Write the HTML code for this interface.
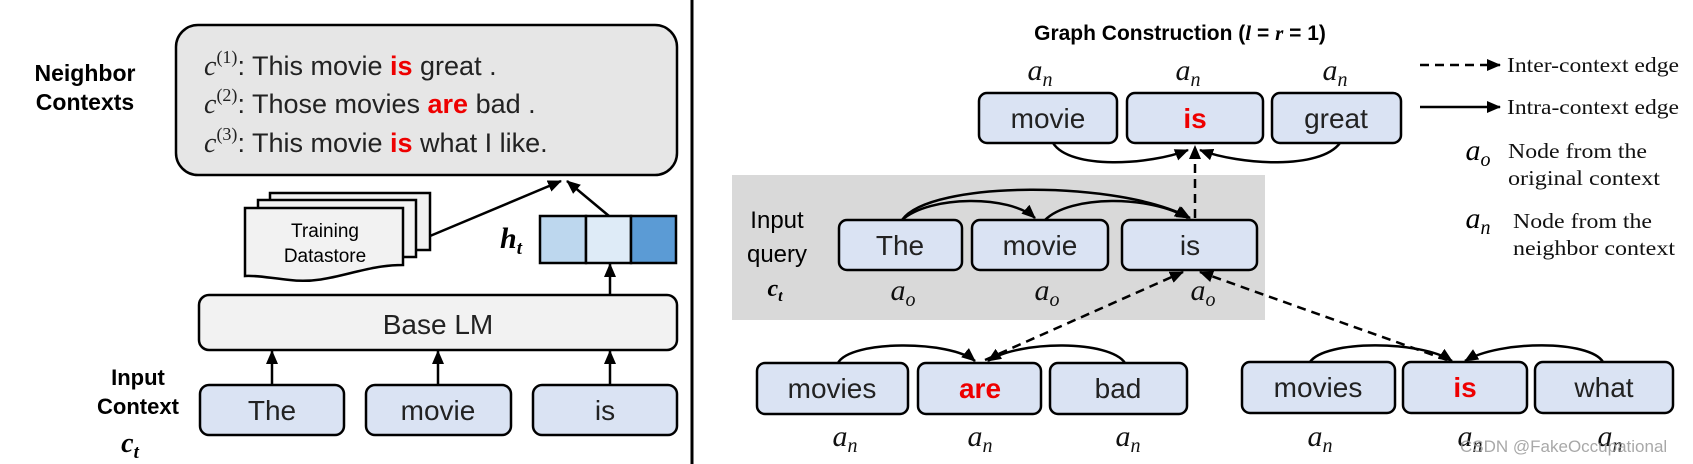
<!DOCTYPE html>
<html><head><meta charset="utf-8"><style>
html,body{margin:0;padding:0;background:#fff;}
svg{display:block;}
.s{font-family:"Liberation Sans",sans-serif;}
.sr{font-family:"Liberation Serif",serif;}
</style></head><body>
<svg width="1693" height="464" viewBox="0 0 1693 464" xmlns="http://www.w3.org/2000/svg">
<defs>
<marker id="ah" viewBox="0 0 14 12" refX="13" refY="6" markerWidth="14" markerHeight="12" orient="auto" markerUnits="userSpaceOnUse">
<path d="M0,0 L14,6 L0,12 z" fill="#000"/>
</marker>
</defs>
<line x1="692" y1="0" x2="692" y2="464" stroke="#000" stroke-width="3"/>

<!-- LEFT PANEL -->
<text x="85" y="81" text-anchor="middle" class="s" font-weight="bold" font-size="23">Neighbor</text>
<text x="85" y="110" text-anchor="middle" class="s" font-weight="bold" font-size="23">Contexts</text>
<rect x="176" y="25" width="501" height="150" rx="22" fill="#e6e6e6" stroke="#000" stroke-width="2.5"/>
<g class="s" font-size="27" fill="#222">
<text x="204" y="75"><tspan class="sr" font-style="italic" font-size="28">c</tspan><tspan class="sr" font-size="18" dy="-12">(1)</tspan><tspan dy="12">:  This movie </tspan><tspan fill="#e00" font-weight="bold">is</tspan> great .</text>
<text x="204" y="113"><tspan class="sr" font-style="italic" font-size="28">c</tspan><tspan class="sr" font-size="18" dy="-12">(2)</tspan><tspan dy="12">: Those movies </tspan><tspan fill="#e00" font-weight="bold">are</tspan> bad .</text>
<text x="204" y="152"><tspan class="sr" font-style="italic" font-size="28">c</tspan><tspan class="sr" font-size="18" dy="-12">(3)</tspan><tspan dy="12">: This movie </tspan><tspan fill="#e00" font-weight="bold">is</tspan> what I like.</text>
</g>
<rect x="270" y="193" width="160" height="57" fill="#f2f2f2" stroke="#000" stroke-width="2.5"/>
<rect x="258" y="200" width="158" height="57" fill="#f2f2f2" stroke="#000" stroke-width="2.5"/>
<path d="M245,208 L403,208 L403,265 C360,265 330,285 290,280 C270,278 255,275 245,276 Z" fill="#f2f2f2" stroke="#000" stroke-width="2.5"/>
<text x="325" y="237" text-anchor="middle" class="s" font-size="19">Training</text>
<text x="325" y="262" text-anchor="middle" class="s" font-size="19">Datastore</text>
<text x="500" y="248" class="sr" font-weight="bold" font-style="italic" font-size="30">h<tspan font-size="19" dy="6">t</tspan></text>
<rect x="540" y="216" width="46" height="47" fill="#bdd7ee" stroke="#000" stroke-width="2.5"/>
<rect x="586" y="216" width="45" height="47" fill="#deebf7" stroke="#000" stroke-width="2.5"/>
<rect x="631" y="216" width="45" height="47" fill="#5b9bd5" stroke="#000" stroke-width="2.5"/>
<line x1="430" y1="236" x2="561" y2="181" stroke="#000" stroke-width="2.5" marker-end="url(#ah)"/>
<line x1="609" y1="216" x2="567" y2="181" stroke="#000" stroke-width="2.5" marker-end="url(#ah)"/>
<rect x="199" y="295" width="478" height="55" rx="10" fill="#f2f2f2" stroke="#000" stroke-width="2.5"/>
<text x="438" y="334" text-anchor="middle" class="s" font-size="28" fill="#222">Base LM</text>
<line x1="610" y1="295" x2="610" y2="264" stroke="#000" stroke-width="2.5" marker-end="url(#ah)"/>
<g stroke="#000" stroke-width="2.5" fill="#dae3f3">
<rect x="200" y="385" width="144" height="50" rx="9"/>
<rect x="366" y="385" width="145" height="50" rx="9"/>
<rect x="533" y="385" width="144" height="50" rx="9"/>
</g>
<g class="s" font-size="28" text-anchor="middle" fill="#222">
<text x="272" y="420">The</text><text x="438" y="420">movie</text><text x="605" y="420">is</text>
</g>
<g stroke="#000" stroke-width="2.5">
<line x1="272" y1="385" x2="272" y2="351" marker-end="url(#ah)"/>
<line x1="438" y1="385" x2="438" y2="351" marker-end="url(#ah)"/>
<line x1="610" y1="385" x2="610" y2="351" marker-end="url(#ah)"/>
</g>
<text x="138" y="385" text-anchor="middle" class="s" font-weight="bold" font-size="22">Input</text>
<text x="138" y="414" text-anchor="middle" class="s" font-weight="bold" font-size="22">Context</text>
<text x="130" y="452" text-anchor="middle" class="sr" font-weight="bold" font-style="italic" font-size="28">c<tspan font-size="19" dy="6">t</tspan></text>

<!-- RIGHT PANEL -->
<text x="1180" y="40" text-anchor="middle" class="s" font-weight="bold" font-size="21">Graph Construction (<tspan class="sr" font-style="italic">l</tspan> = <tspan class="sr" font-style="italic">r</tspan> = 1)</text>
<rect x="732" y="175" width="533" height="145" fill="#d9d9d9"/>
<g fill="none" stroke="#000" stroke-width="2.5">
<path d="M1053,143 C1070,170 1150,165 1188,150" marker-end="url(#ah)"/>
<path d="M1340,143 C1320,170 1240,165 1200,150" marker-end="url(#ah)"/>
<path d="M902,220 C930,180 1120,180 1190,218" marker-end="url(#ah)"/>
<path d="M902,220 C930,195 1010,195 1035,218" marker-end="url(#ah)"/>
<path d="M1045,220 C1070,195 1150,195 1188,218" marker-end="url(#ah)"/>
<path d="M838,363 C850,340 950,340 975,361" marker-end="url(#ah)"/>
<path d="M1125,363 C1110,340 1020,340 988,361" marker-end="url(#ah)"/>
<path d="M1310,362 C1325,340 1420,340 1452,361" marker-end="url(#ah)"/>
<path d="M1603,362 C1590,340 1500,340 1465,361" marker-end="url(#ah)"/>
</g>
<g fill="none" stroke="#000" stroke-width="2.5" stroke-dasharray="9,6">
<line x1="1195" y1="218" x2="1195" y2="146" marker-end="url(#ah)"/>
<line x1="985" y1="360" x2="1183" y2="272" marker-end="url(#ah)"/>
<line x1="1447" y1="360" x2="1200" y2="272" marker-end="url(#ah)"/>
</g>
<g stroke="#000" stroke-width="2.5" fill="#dae3f3">
<rect x="979" y="93" width="138" height="50" rx="8"/>
<rect x="1127" y="93" width="136" height="50" rx="8"/>
<rect x="1272" y="93" width="129" height="50" rx="8"/>
<rect x="839" y="220" width="123" height="50" rx="8"/>
<rect x="972" y="220" width="136" height="50" rx="8"/>
<rect x="1122" y="220" width="135" height="50" rx="8"/>
<rect x="757" y="363" width="151" height="51" rx="8"/>
<rect x="918" y="363" width="123" height="51" rx="8"/>
<rect x="1050" y="363" width="137" height="51" rx="8"/>
<rect x="1242" y="362" width="153" height="51" rx="8"/>
<rect x="1403" y="362" width="124" height="51" rx="8"/>
<rect x="1535" y="362" width="138" height="51" rx="8"/>
</g>
<g class="s" font-size="28" text-anchor="middle" fill="#222">
<text x="1048" y="128">movie</text>
<text x="1195" y="128" fill="#e00" font-weight="bold">is</text>
<text x="1336" y="128">great</text>
<text x="900" y="255">The</text>
<text x="1040" y="255">movie</text>
<text x="1190" y="255">is</text>
<text x="832" y="398">movies</text>
<text x="980" y="398" fill="#e00" font-weight="bold">are</text>
<text x="1118" y="398">bad</text>
<text x="1318" y="397">movies</text>
<text x="1465" y="397" fill="#e00" font-weight="bold">is</text>
<text x="1604" y="397">what</text>
</g>
<g class="sr" font-style="italic" font-size="30" text-anchor="middle" fill="#111">
<text x="1040" y="80">a<tspan font-size="20" dy="6">n</tspan></text>
<text x="1188" y="80">a<tspan font-size="20" dy="6">n</tspan></text>
<text x="1335" y="80">a<tspan font-size="20" dy="6">n</tspan></text>
<text x="903" y="300">a<tspan font-size="20" dy="6">o</tspan></text>
<text x="1047" y="300">a<tspan font-size="20" dy="6">o</tspan></text>
<text x="1203" y="300">a<tspan font-size="20" dy="6">o</tspan></text>
<text x="845" y="446">a<tspan font-size="20" dy="6">n</tspan></text>
<text x="980" y="446">a<tspan font-size="20" dy="6">n</tspan></text>
<text x="1128" y="446">a<tspan font-size="20" dy="6">n</tspan></text>
<text x="1320" y="446">a<tspan font-size="20" dy="6">n</tspan></text>
<text x="1470" y="446">a<tspan font-size="20" dy="6">n</tspan></text>
<text x="1610" y="446">a<tspan font-size="20" dy="6">n</tspan></text>
</g>
<text x="777" y="228" text-anchor="middle" class="s" font-size="24">Input</text>
<text x="777" y="262" text-anchor="middle" class="s" font-size="24">query</text>
<text x="775" y="296" text-anchor="middle" class="sr" font-weight="bold" font-style="italic" font-size="24">c<tspan font-size="16" dy="5">t</tspan></text>
<line x1="1420" y1="65" x2="1500" y2="65" stroke="#000" stroke-width="2.5" stroke-dasharray="9,6" marker-end="url(#ah)"/>
<line x1="1420" y1="107" x2="1500" y2="107" stroke="#000" stroke-width="2.5" marker-end="url(#ah)"/>
<g class="sr" font-size="21" fill="#111">
<text x="1507" y="72" textLength="172" lengthAdjust="spacingAndGlyphs">Inter-context edge</text>
<text x="1507" y="114" textLength="172" lengthAdjust="spacingAndGlyphs">Intra-context edge</text>
<text x="1508" y="158" textLength="139" lengthAdjust="spacingAndGlyphs">Node from the</text>
<text x="1508" y="185" textLength="152" lengthAdjust="spacingAndGlyphs">original context</text>
<text x="1513" y="228" textLength="139" lengthAdjust="spacingAndGlyphs">Node from the</text>
<text x="1513" y="255" textLength="162" lengthAdjust="spacingAndGlyphs">neighbor context</text>
</g>
<text x="1478" y="160" text-anchor="middle" class="sr" font-style="italic" font-size="30">a<tspan font-size="20" dy="6">o</tspan></text>
<text x="1478" y="228" text-anchor="middle" class="sr" font-style="italic" font-size="30">a<tspan font-size="20" dy="6">n</tspan></text>
<text x="1460" y="452" class="s" font-size="17" fill="#999" opacity="0.85">CSDN @FakeOccupational</text>
</svg>
</body></html>
